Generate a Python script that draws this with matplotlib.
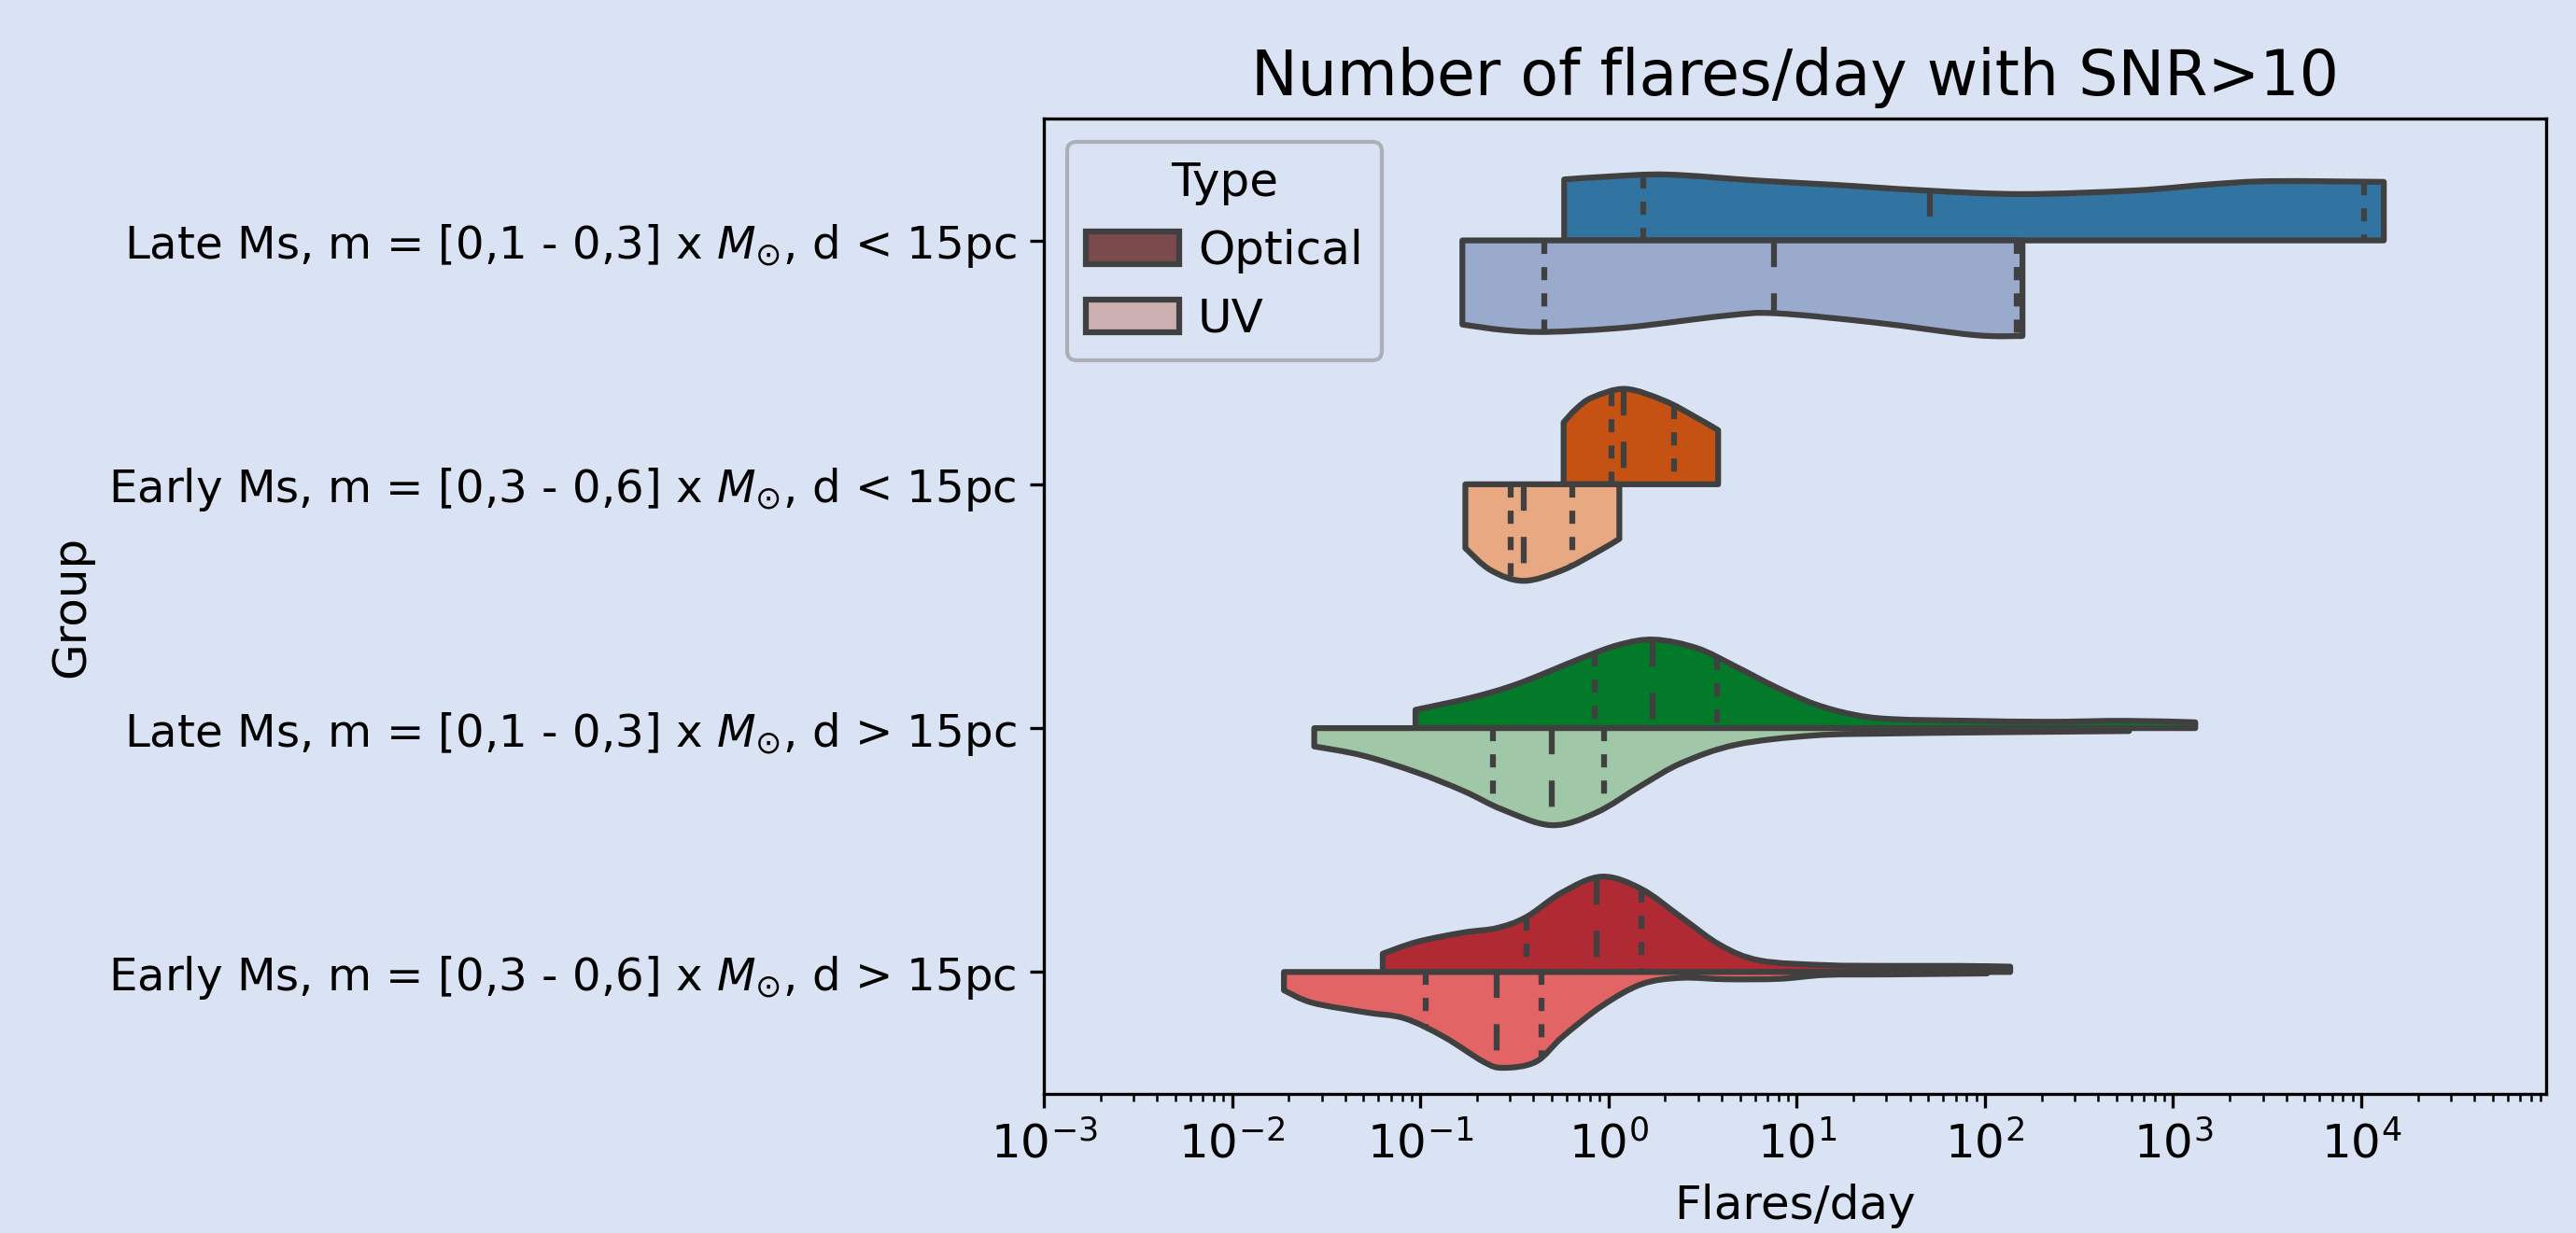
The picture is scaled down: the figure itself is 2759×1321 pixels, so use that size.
import numpy as np
import matplotlib.pyplot as plt
from matplotlib.patches import Patch, PathPatch
from matplotlib.path import Path

# groups (y categories)
groups = ['Late Ms, m = [0,1 - 0,3] x $M_{\\odot}$, d < 15pc',
          'Early Ms, m = [0,3 - 0,6] x $M_{\\odot}$, d < 15pc',
          'Late Ms, m = [0,1 - 0,3] x $M_{\\odot}$, d > 15pc',
          'Early Ms, m = [0,3 - 0,6] x $M_{\\odot}$, d > 15pc']
types = ['Optical', 'UV']

# half-violin profiles: log10(flares/day) and half width
opt0_logx = [-0.235, 0.0, 0.316, 0.8, 1.2, 1.68, 2.2, 2.8, 3.2, 3.52, 4.12]
opt0_w = [0.25, 0.262, 0.27, 0.245, 0.228, 0.205, 0.19, 0.205, 0.23, 0.243, 0.24]
uv0_logx = [-0.776, -0.55, -0.314, 0.106, 0.63, 0.893, 1.418, 1.943, 2.2]
uv0_w = [0.345, 0.368, 0.375, 0.356, 0.308, 0.299, 0.337, 0.388, 0.392]

opt1_logx = [-0.238, -0.17, -0.085, 0.09, 0.296, 0.455, 0.583]
opt1_w = [0.254, 0.31, 0.356, 0.391, 0.343, 0.279, 0.222]
uv1_logx = [-0.76, -0.626, -0.451, -0.244, -0.053, 0.058]
uv1_w = [0.262, 0.352, 0.396, 0.352, 0.275, 0.224]

opt2_logx = [-1.025, -0.728, -0.48, -0.149, 0.058, 0.244, 0.471, 0.678, 0.885,
             1.091, 1.298, 1.505, 1.919, 2.332, 2.746, 3.118]
opt2_w = [0.075, 0.125, 0.182, 0.285, 0.342, 0.363, 0.328, 0.252, 0.17,
          0.1, 0.056, 0.037, 0.03, 0.026, 0.03, 0.024]
uv2_logx = [-1.563, -1.307, -1.017, -0.769, -0.563, -0.302, -0.066, 0.182, 0.389,
            0.678, 1.091, 1.505, 1.919, 2.332, 2.766]
uv2_w = [0.075, 0.112, 0.182, 0.258, 0.334, 0.398, 0.347, 0.232, 0.143,
         0.068, 0.03, 0.022, 0.018, 0.015, 0.012]

opt3_logx = [-1.199, -1.014, -0.769, -0.594, -0.437, -0.244, -0.034, 0.176, 0.386,
             0.595, 0.806, 1.155, 1.505, 1.855, 2.135]
opt3_w = [0.075, 0.124, 0.162, 0.18, 0.225, 0.327, 0.391, 0.34, 0.225,
          0.11, 0.047, 0.028, 0.025, 0.025, 0.022]
uv3_logx = [-1.724, -1.574, -1.294, -1.084, -0.874, -0.664, -0.559, -0.385, -0.244,
            -0.034, 0.176, 0.386, 0.63, 0.91, 1.155, 1.505, 2.012]
uv3_w = [0.075, 0.126, 0.165, 0.19, 0.266, 0.368, 0.393, 0.368, 0.266,
         0.139, 0.05, 0.024, 0.03, 0.028, 0.012, 0.01, 0.006]

# quartiles (25, 50, 75) in log10(flares/day)
opt_quart = [[0.185, 1.706, 4.015], [0.016, 0.083, 0.351],
             [-0.074, 0.235, 0.575], [-0.437, -0.062, 0.176]]
uv_quart = [[-0.341, 0.882, 2.168], [-0.521, -0.448, -0.193],
            [-0.612, -0.302, -0.021], [-0.969, -0.594, -0.356]]

opt_colors = ['#3274a1', '#c55212', '#037a29', '#b02a34']
uv_colors = ['#9aaacc', '#e8a882', '#a0c8a8', '#e36464']
legend_colors = ['#7a4a4c', '#cdb0b0']

bg = '#dae3f3'
gray = '#404040'
lw = 1.5

opt_logx = [opt0_logx, opt1_logx, opt2_logx, opt3_logx]
opt_w = [opt0_w, opt1_w, opt2_w, opt3_w]
uv_logx = [uv0_logx, uv1_logx, uv2_logx, uv3_logx]
uv_w = [uv0_w, uv1_w, uv2_w, uv3_w]

fig = plt.figure(figsize=(2759 / 300, 1321 / 300), dpi=300, facecolor=bg)
ax = fig.add_axes([0.4052, 0.1128, 0.5832, 0.7911], facecolor=bg)
ax.set_xscale('log')


def half_violin(c, logx, w, quart, color, side):
    # smooth outline: bezier curve through the read points (x in log space)
    u = np.array(logx, dtype=float)
    v = c - side * np.array(w, dtype=float)  # side=1 -> upper half (axis is inverted)
    pts = np.column_stack([u, v])
    ext = np.vstack([pts[0], pts, pts[-1]])
    verts = [(u[0], c), (u[0], v[0])]
    codes = [Path.MOVETO, Path.LINETO]
    for k in range(len(pts) - 1):
        p0, p1, p2, p3 = ext[k], ext[k + 1], ext[k + 2], ext[k + 3]
        verts += [tuple(p1 + (p2 - p0) / 6), tuple(p2 - (p3 - p1) / 6), tuple(p2)]
        codes += [Path.CURVE4] * 3
    verts += [(u[-1], c), (u[0], c)]
    codes += [Path.LINETO, Path.CLOSEPOLY]
    verts = np.array(verts)
    verts[:, 0] = 10 ** verts[:, 0]
    ax.add_patch(PathPatch(Path(verts, codes), facecolor=color, edgecolor=gray,
                           linewidth=lw, joinstyle='round', zorder=2))
    for i, q in enumerate(quart):
        h = np.interp(q, logx, w)
        d = [2.25, 2.25] if i != 1 else [4.5, 4.5]
        ax.plot([10 ** q, 10 ** q], [c - side * h, c] if side == 1 else [c, c + h],
                color=gray, linewidth=lw, dashes=d, zorder=3)


for i in range(len(groups)):
    half_violin(i, opt_logx[i], opt_w[i], opt_quart[i], opt_colors[i], 1)
    half_violin(i, uv_logx[i], uv_w[i], uv_quart[i], uv_colors[i], -1)

ax.set_xlim(1e-3, 9.6e4)
ax.set_ylim(3.5, -0.5)
ax.set_yticks(range(len(groups)))
ax.set_yticklabels(groups, fontsize=11.6)
ax.tick_params(axis='x', labelsize=12)
ax.set_xlabel('Flares/day', fontsize=12)
ax.set_ylabel('Group', fontsize=12)
ax.set_title('Number of flares/day with SNR>10', fontsize=16)

handles = [Patch(facecolor=legend_colors[k], edgecolor=gray, linewidth=lw, label=types[k])
           for k in range(len(types))]
leg = ax.legend(handles=handles, title='Type', loc='upper left', fontsize=12,
                title_fontsize=12, handletextpad=0.4)
leg.get_frame().set_edgecolor('#a0a4a8')
leg.get_frame().set_facecolor(bg)

plt.savefig('out.png', dpi=300, facecolor=bg)
